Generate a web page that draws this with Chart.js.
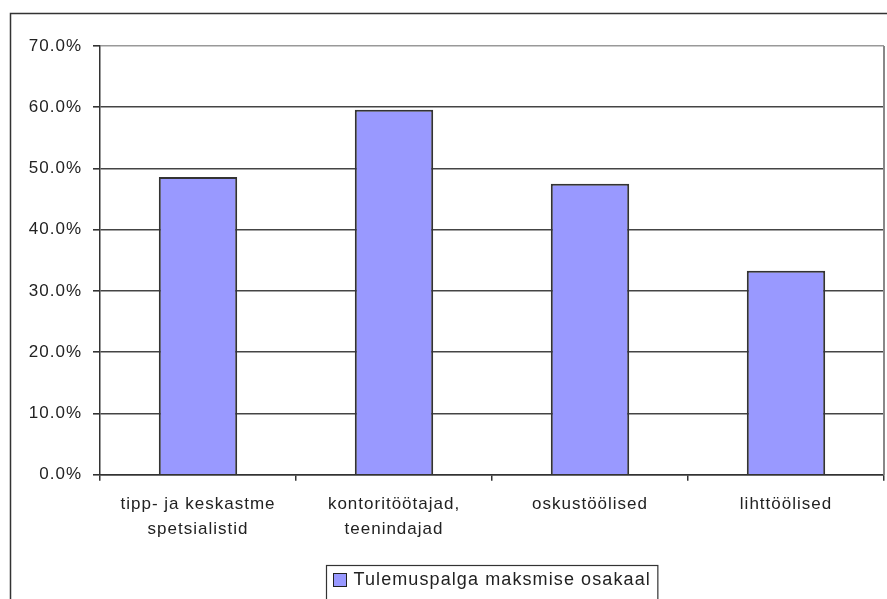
<!DOCTYPE html>
<html>
<head>
<meta charset="utf-8">
<script src="https://cdn.jsdelivr.net/npm/chart.js@4"></script>
<style>
  body { margin: 0; background: #fff; }
  #wrap { width: 887px; height: 599px; }
</style>
</head>
<body>
<div id="wrap"><canvas id="chart" width="887" height="599"></canvas></div>
<script>
// data
const categories = [
  ['tipp- ja keskastme', 'spetsialistid'],
  ['kontoritöötajad,', 'teenindajad'],
  'oskustöölised',
  'lihttöölised'
];
const seriesName = 'Tulemuspalga maksmise osakaal';
const shares = [48.6, 59.6, 47.5, 33.3];
const yMax = 70;
const yStep = 10;

const FONT = "'Liberation Sans', Arial, sans-serif";
const BAR_FILL = '#9999ff';
const INK = '#222';

// outer frame, right border of plot, legend box
const framePlugin = {
  id: 'frame',
  beforeDraw(chart) {
    chart.ctx.letterSpacing = '1px';
  },
  afterDraw(chart) {
    const ctx = chart.ctx;
    const area = chart.chartArea;
    ctx.save();
    ctx.letterSpacing = '1.1px';
    // outer frame
    ctx.strokeStyle = '#333';
    ctx.lineWidth = 1.5;
    ctx.beginPath();
    ctx.moveTo(10.5, 610);
    ctx.lineTo(10.5, 13.5);
    ctx.lineTo(900, 13.5);
    ctx.stroke();
    // right edge of plot
    ctx.strokeStyle = '#888';
    ctx.lineWidth = 2;
    ctx.beginPath();
    ctx.moveTo(area.right, area.top);
    ctx.lineTo(area.right, area.bottom);
    ctx.stroke();
    // legend
    ctx.font = '18px ' + FONT;
    const label = chart.data.datasets[0].label;
    const tw = ctx.measureText(label).width;
    const sq = 13, gap = 7, pad = 7;
    const w = pad + sq + gap + tw + pad;
    const cx = (area.left + area.right) / 2;
    const left = Math.round(cx - w / 2) + 0.5;
    const top = 565.5;
    ctx.strokeStyle = '#333';
    ctx.lineWidth = 1.2;
    ctx.strokeRect(left, top, w, 60);
    const midY = 580;
    ctx.fillStyle = BAR_FILL;
    ctx.fillRect(left + pad, midY - sq / 2, sq, sq);
    ctx.strokeStyle = '#222';
    ctx.lineWidth = 1;
    ctx.strokeRect(left + pad, midY - sq / 2, sq, sq);
    ctx.fillStyle = INK;
    ctx.textBaseline = 'middle';
    ctx.textAlign = 'left';
    ctx.fillText(label, left + pad + sq + gap, midY);
    ctx.restore();
  }
};

new Chart(document.getElementById('chart'), {
  type: 'bar',
  data: {
    labels: categories,
    datasets: [{
      label: seriesName,
      data: shares,
      backgroundColor: BAR_FILL,
      borderColor: '#333',
      borderWidth: 2,
      categoryPercentage: 1,
      barPercentage: 0.4
    }]
  },
  options: {
    responsive: false,
    animation: false,
    layout: { padding: { left: 0, right: 3, top: 46, bottom: 0 } },
    plugins: {
      legend: { display: false },
      tooltip: { enabled: false }
    },
    scales: {
      x: {
        afterFit(scale) { scale.height = 124.3; },
        grid: {
          offset: true,
          drawOnChartArea: false,
          drawTicks: true,
          tickLength: 6,
          color: '#333',
          lineWidth: 1.5
        },
        border: { display: true, color: '#333', width: 1.5 },
        ticks: {
          color: INK,
          padding: 12,
          maxRotation: 0,
          autoSkip: false,
          font: { family: FONT, size: 17, lineHeight: 1.42 }
        }
      },
      y: {
        min: 0,
        max: yMax,
        afterFit(scale) { scale.width = 100; },
        grid: {
          color: (c) => (c.tick && c.tick.value === yMax ? '#999' : '#444'),
          tickColor: '#333',
          lineWidth: 1.6,
          drawTicks: true,
          tickLength: 7
        },
        border: { display: true, color: '#333', width: 1.5 },
        ticks: {
          stepSize: yStep,
          color: INK,
          padding: 11,
          font: { family: FONT, size: 17 },
          callback: (v) => v.toFixed(1) + '%'
        }
      }
    }
  },
  plugins: [framePlugin]
});
</script>
</body>
</html>
